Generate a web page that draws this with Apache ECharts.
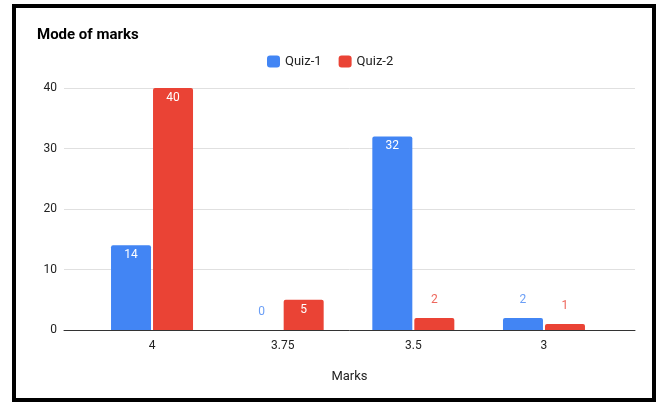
<!DOCTYPE html>
<html>
<head>
<meta charset="utf-8">
<script src="https://cdn.jsdelivr.net/npm/echarts@6/dist/echarts.min.js"></script>
<style>
  html, body { margin: 0; padding: 0; background: #fff; }
  #chart { position: absolute; left: 0; top: 0; width: 659px; height: 402px; }
  #frame { position: absolute; left: 12px; top: 4px; width: 636px; height: 390px;
           border: 4px solid #000; pointer-events: none; }
</style>
</head>
<body>
<div id="chart"></div>
<div id="frame"></div>
<script>
const categories = ['4', '3.75', '3.5', '3'];
const quiz1 = [14, 0, 32, 2];
const quiz2 = [40, 5, 2, 1];
const yTicks = [0, 10, 20, 30, 40];

const BLUE = '#4285F4', RED = '#EA4335';
const BLUE_LBL = '#6A9EF6', RED_LBL = '#EE675C';

function makeData(values, outsideColor) {
  return values.map(v => {
    const inside = v >= 5;
    return {
      value: v,
      label: inside
        ? { show: true, position: 'insideTop', distance: 4, color: '#fff' }
        : { show: true, position: 'top', distance: 12, color: outsideColor }
    };
  });
}

const chart = echarts.init(document.getElementById('chart'), null, { renderer: 'canvas' });
const font = 'Roboto, Arial, sans-serif';

chart.setOption({
  animation: false,
  textStyle: { fontFamily: font },
  title: {
    text: 'Mode of marks', left: 32, top: 23,
    textStyle: { fontSize: 15, fontWeight: 'bold', color: '#000', fontFamily: font }
  },
  legend: {
    left: 262, top: 50, itemWidth: 13, itemHeight: 12, itemGap: 17,
    icon: 'roundRect',
    textStyle: { fontSize: 13, color: '#222', fontFamily: font },
    data: ['Quiz-1', 'Quiz-2']
  },
  grid: [
    { left: 64, right: 24, top: 88, bottom: 72 },
    { left: 86.7, right: 49.7, top: 88, bottom: 72 }
  ],
  xAxis: [
    {
      gridIndex: 0, type: 'category', data: [''],
      axisLine: { show: true, lineStyle: { color: '#333', width: 1 } },
      axisTick: { show: false }, axisLabel: { show: false },
      name: 'Marks', nameLocation: 'middle', nameGap: 40,
      nameTextStyle: { fontSize: 13, color: '#222', fontFamily: font }
    },
    {
      gridIndex: 1, type: 'category', data: categories,
      axisLine: { show: false }, axisTick: { show: false },
      axisLabel: { fontSize: 12, color: '#222', margin: 10, fontFamily: font }
    }
  ],
  yAxis: [
    {
      gridIndex: 0, type: 'value', min: yTicks[0], max: yTicks[yTicks.length - 1], interval: 10,
      axisLine: { show: false }, axisTick: { show: false },
      axisLabel: { fontSize: 12, color: '#222', margin: 7, fontFamily: font },
      splitLine: { lineStyle: { color: '#e0e0e0', width: 1 } }
    },
    {
      gridIndex: 1, type: 'value', min: yTicks[0], max: yTicks[yTicks.length - 1], interval: 10,
      show: false, splitLine: { show: false }
    }
  ],
  series: [
    {
      name: 'Quiz-1', type: 'bar', xAxisIndex: 1, yAxisIndex: 1,
      barWidth: 40, barGap: '5%',
      itemStyle: { color: BLUE, borderRadius: [2, 2, 0, 0] },
      label: { fontSize: 12, fontFamily: font },
      data: makeData(quiz1, BLUE_LBL)
    },
    {
      name: 'Quiz-2', type: 'bar', xAxisIndex: 1, yAxisIndex: 1,
      barWidth: 40, barGap: '5%',
      itemStyle: { color: RED, borderRadius: [2, 2, 0, 0] },
      label: { fontSize: 12, fontFamily: font },
      data: makeData(quiz2, RED_LBL)
    }
  ]
});
</script>
</body>
</html>
